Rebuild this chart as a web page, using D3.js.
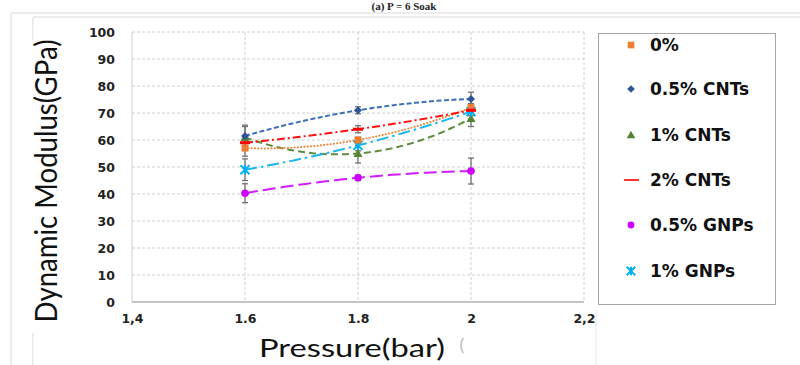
<!DOCTYPE html>
<html><head><meta charset="utf-8">
<script src="https://cdn.jsdelivr.net/npm/d3@7"></script>
<style>body{margin:0;background:#fff}svg{display:block}</style>
</head><body><svg id="c" width="800" height="365"></svg>
<script>
const pressures = [1.6, 1.8, 2.0];
const seriesNames = ["0%", "0.5% CNTs", "1% CNTs", "2% CNTs", "0.5% GNPs", "1% GNPs"];
const v0 = [57, 60, 72];
const v05CNT = [61.5, 71, 75.2];
const v1CNT = [61, 55, 68];
const v2CNT = [59, 64, 71];
const v05GNP = [40.3, 46, 48.5];
const v1GNP = [49, 58, 70.5];
const e0 = [3, 1, 1.5];
const e05CNT = [4, 1.3, 2.5];
const e1CNT = [4, 3.5, 3];
const e2CNT = [1, 1.3, 1];
const e05GNP = [3.5, 1, 4.8];
const e1GNP = [4, 2, 1.5];
const xTicks = [1.4, 1.6, 1.8, 2.0, 2.2];
const xTickLabels = ["1,4", "1.6", "1.8", "2", "2,2"];
const yTicks = [0, 10, 20, 30, 40, 50, 60, 70, 80, 90, 100];

const values = [v0, v05CNT, v1CNT, v2CNT, v05GNP, v1GNP];
const errors = [e0, e05CNT, e1CNT, e2CNT, e05GNP, e1GNP];
const styles = [
  {line:"#F08232", mark:"#ED7D31", dash:"0.1,3.2", cap:"round", w:2, shape:"square"},
  {line:"#3B70B8", mark:"#2F5597", dash:"5,2.5", cap:"butt", w:2, shape:"diamond"},
  {line:"#5E8B3C", mark:"#548235", dash:"7,4", cap:"butt", w:2, shape:"triangle"},
  {line:"#FF1010", mark:"#FF0000", dash:"8,3,2,3", cap:"butt", w:2, shape:"dash"},
  {line:"#D21CFF", mark:"#CC00FF", dash:"13,5", cap:"butt", w:2, shape:"circle"},
  {line:"#19B6F2", mark:"#00B0F0", dash:"12,4,2.5,4", cap:"butt", w:2, shape:"star"}
];

const svg = d3.select("#c");
const x = d3.scaleLinear().domain([1.4, 2.2]).range([132, 584]);
const y = d3.scaleLinear().domain([0, 100]).range([302, 32]);

// frame artifacts
const fr = svg.append("g").attr("stroke", "#d9d9d9").attr("fill", "none");
fr.append("path").attr("d", "M11,365V13H800");
fr.append("path").attr("d", "M33,40V17H800");
fr.append("path").attr("d", "M33,333V365");
fr.append("path").attr("d", "M596,310V365").attr("stroke", "#e6e6e6");

// title (at the top edge, as in the reference)
svg.append("text").attr("x", 404).attr("y", 10).attr("text-anchor", "middle")
  .attr("font-family", "Liberation Serif").attr("font-size", 11).attr("font-weight", "bold")
  .attr("fill", "#222").text("(a) P = 6 Soak");

// gridlines
const g = svg.append("g");
g.selectAll(".gy").data(yTicks.filter(d => d > 0)).join("line")
  .attr("x1", x(1.4)).attr("x2", x(2.2)).attr("y1", d => y(d)).attr("y2", d => y(d))
  .attr("stroke", "#d0d0d0").attr("stroke-dasharray", "3,2").attr("stroke-width", 1);
g.selectAll(".gx").data(xTicks.filter(d => d > 1.4)).join("line")
  .attr("x1", d => x(d)).attr("x2", d => x(d)).attr("y1", y(100)).attr("y2", y(0))
  .attr("stroke", "#d0d0d0").attr("stroke-dasharray", "3,2").attr("stroke-width", 1);
// axes lines
g.append("line").attr("x1", x(1.4)).attr("x2", x(1.4)).attr("y1", y(100)).attr("y2", y(0))
  .attr("stroke", "#d0d0d0");
g.append("line").attr("x1", x(1.4)).attr("x2", x(2.2)).attr("y1", y(0)).attr("y2", y(0))
  .attr("stroke", "#c4c4c4").attr("stroke-width", 2);

// tick labels
const yAxis = d3.axisLeft(y).tickValues(yTicks).tickSize(0).tickPadding(17);
const ya = svg.append("g").attr("transform", `translate(${x(1.4)},0)`).call(yAxis);
ya.select(".domain").remove();
ya.selectAll("text").attr("font-family", "DejaVu Sans").attr("font-weight", "bold")
  .attr("font-size", 12.5).attr("fill", "#222");
const xAxis = d3.axisBottom(x).tickValues(xTicks).tickSize(0).tickPadding(12)
  .tickFormat((d, i) => xTickLabels[i]);
const xa = svg.append("g").attr("transform", `translate(0,${y(0)})`).call(xAxis);
xa.select(".domain").remove();
xa.selectAll("text").attr("font-family", "DejaVu Sans").attr("font-weight", "bold")
  .attr("font-size", 12.5).attr("fill", "#222");

// axis titles
svg.append("text").attr("x", 352).attr("y", 357).attr("text-anchor", "middle")
  .attr("font-family", "Lato").attr("font-size", 25).attr("fill", "#111")
  .attr("textLength", 186).attr("lengthAdjust", "spacingAndGlyphs").text("Pressure(bar)");
svg.append("text").attr("x", 462).attr("y", 351).attr("text-anchor", "middle")
  .attr("font-family", "Lato").attr("font-size", 18).attr("fill", "#bbb").text("(");
svg.append("text").attr("transform", "translate(57,181) rotate(-90)").attr("text-anchor", "middle")
  .attr("font-family", "Lato").attr("font-size", 30).attr("fill", "#111")
  .attr("textLength", 283).attr("lengthAdjust", "spacingAndGlyphs").text("Dynamic Modulus(GPa)");

// error bars
const eb = svg.append("g").attr("stroke", "#707070").attr("stroke-width", 1.3);
values.forEach((vals, si) => {
  vals.forEach((v, i) => {
    const e = errors[si][i], cx = x(pressures[i]);
    eb.append("line").attr("x1", cx).attr("x2", cx).attr("y1", y(v + e)).attr("y2", y(v - e));
    eb.append("line").attr("x1", cx - 3).attr("x2", cx + 3).attr("y1", y(v + e)).attr("y2", y(v + e));
    eb.append("line").attr("x1", cx - 3).attr("x2", cx + 3).attr("y1", y(v - e)).attr("y2", y(v - e));
  });
});

// quadratic trendlines (order 2 through the three points)
function quadFit(xs, ys) {
  return t => ys.reduce((s, yi, i) => {
    let p = yi;
    xs.forEach((xj, j) => { if (j !== i) p *= (t - xj) / (xs[i] - xj); });
    return s + p;
  }, 0);
}
const line = d3.line().x(d => x(d[0])).y(d => y(d[1]));
const tSamples = d3.range(0, 41).map(k => 1.6 + k * 0.01);
const drawOrder = [2, 4, 5, 0, 3, 1];
drawOrder.forEach(si => {
  const f = quadFit(pressures, values[si]);
  const st = styles[si];
  svg.append("path").datum(tSamples.map(t => [t, f(t)])).attr("d", line)
    .attr("fill", "none").attr("stroke", st.line).attr("stroke-width", st.w)
    .attr("stroke-dasharray", st.dash).attr("stroke-linecap", st.cap);
});

function marker(gp, shape, color, cx, cy, s) {
  s = s || 1;
  if (shape === "square") gp.append("rect").attr("x", cx - 3.5 * s).attr("y", cy - 3.5 * s)
    .attr("width", 7 * s).attr("height", 7 * s).attr("fill", color);
  else if (shape === "diamond") gp.append("path")
    .attr("d", `M${cx},${cy - 4 * s}L${cx + 4 * s},${cy}L${cx},${cy + 4 * s}L${cx - 4 * s},${cy}Z`).attr("fill", color);
  else if (shape === "triangle") gp.append("path")
    .attr("d", `M${cx},${cy - 4.5 * s}L${cx + 4.5 * s},${cy + 3.5 * s}L${cx - 4.5 * s},${cy + 3.5 * s}Z`).attr("fill", color);
  else if (shape === "dash") gp.append("rect").attr("x", cx - 5 * s).attr("y", cy - 1.5)
    .attr("width", 10 * s).attr("height", 3).attr("fill", color);
  else if (shape === "circle") gp.append("circle").attr("cx", cx).attr("cy", cy).attr("r", 3.8 * s).attr("fill", color);
  else if (shape === "star") {
    const r = 4.5 * s;
    gp.append("path").attr("d", `M${cx - r},${cy - r}L${cx + r},${cy + r}M${cx - r},${cy + r}L${cx + r},${cy - r}M${cx},${cy - r}V${cy + r}`)
      .attr("stroke", color).attr("stroke-width", 2).attr("fill", "none");
  }
}
const mk = svg.append("g");
drawOrder.forEach(si => {
  values[si].forEach((v, i) => marker(mk, styles[si].shape, styles[si].mark, x(pressures[i]), y(v)));
});

// legend
svg.append("rect").attr("x", 598.5).attr("y", 33.5).attr("width", 177).attr("height", 271)
  .attr("fill", "#fff").attr("stroke", "#a6a6a6").attr("stroke-width", 1);
const legY = [45, 89, 135, 180, 225, 271];
const lg = svg.append("g");
seriesNames.forEach((name, i) => {
  const st = styles[i];
  if (st.shape === "dash") lg.append("line").attr("x1", 624).attr("x2", 639).attr("y1", legY[i]).attr("y2", legY[i])
    .attr("stroke", st.mark).attr("stroke-width", 1.6);
  else marker(lg, st.shape, st.mark, 631, legY[i], st.shape === "circle" ? 0.9 : 0.95);
  lg.append("text").attr("x", 650).attr("y", legY[i] + 6).attr("font-family", "DejaVu Sans")
    .attr("font-weight", "bold").attr("font-size", 17).attr("fill", "#111").text(name);
});
</script></body></html>
